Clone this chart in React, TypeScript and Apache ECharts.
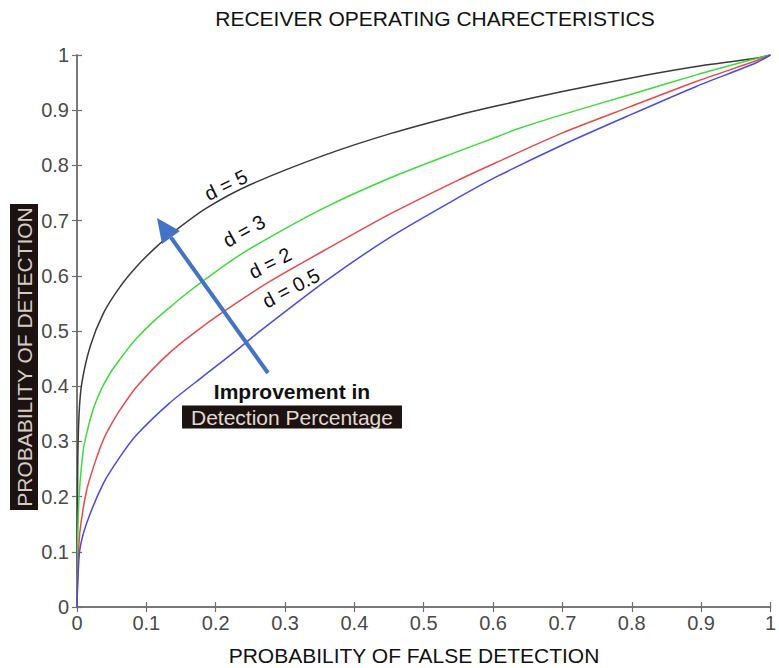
import React, { useEffect, useRef } from "react";
import * as echarts from "echarts";

const FONT = '"Liberation Sans", Arial, Helvetica, sans-serif';

const titleText = "RECEIVER OPERATING CHARECTERISTICS";
const xName = "PROBABILITY OF FALSE DETECTION";
const yName = "PROBABILITY OF DETECTION";

// [probability of false detection, probability of detection]
const curveD5 = [
  [0, 0], [0.001, 0.25], [0.003, 0.35], [0.007, 0.406], [0.019, 0.472], [0.038, 0.532],
  [0.062, 0.58], [0.086, 0.617], [0.114, 0.652], [0.138, 0.678], [0.186, 0.722],
  [0.248, 0.764], [0.358, 0.819], [0.453, 0.858], [0.549, 0.891], [0.606, 0.908],
  [0.7, 0.934], [0.797, 0.958], [0.893, 0.979], [0.978, 0.994], [1, 1],
];
const curveD3 = [
  [0, 0], [0.001, 0.12], [0.003, 0.2], [0.009, 0.284], [0.015, 0.32], [0.023, 0.357],
  [0.03, 0.38], [0.038, 0.402], [0.05, 0.428], [0.062, 0.449], [0.074, 0.469],
  [0.086, 0.487], [0.11, 0.517], [0.133, 0.542], [0.157, 0.567], [0.181, 0.59],
  [0.229, 0.633], [0.281, 0.672], [0.358, 0.724], [0.453, 0.778], [0.549, 0.825],
  [0.606, 0.852], [0.635, 0.866], [0.7, 0.892], [0.797, 0.928], [0.893, 0.964],
  [0.978, 0.993], [1, 1],
];
const curveD2 = [
  [0, 0], [0.001, 0.06], [0.004, 0.134], [0.014, 0.212], [0.026, 0.262], [0.038, 0.303],
  [0.05, 0.332], [0.062, 0.357], [0.086, 0.399], [0.133, 0.46], [0.181, 0.508],
  [0.229, 0.55], [0.277, 0.589], [0.358, 0.647], [0.453, 0.713], [0.549, 0.773],
  [0.606, 0.806], [0.7, 0.859], [0.797, 0.906], [0.893, 0.952], [0.978, 0.989], [1, 1],
];
const curveD05 = [
  [0, 0], [0.001, 0.04], [0.004, 0.103], [0.014, 0.152], [0.038, 0.224], [0.062, 0.272],
  [0.086, 0.312], [0.133, 0.369], [0.181, 0.417], [0.229, 0.464], [0.262, 0.498],
  [0.358, 0.59], [0.453, 0.671], [0.549, 0.741], [0.606, 0.78], [0.7, 0.837],
  [0.797, 0.891], [0.893, 0.943], [0.978, 0.985], [1, 1],
];

const curveNames = ["d = 5", "d = 3", "d = 2", "d = 0.5"];
const curveColors = ["#3a3a3a", "#3cdc3c", "#e84a4a", "#4a4ae6"];
const curves = [curveD5, curveD3, curveD2, curveD05];

const fmt = (v: number) => (v === 0 || v === 1 ? String(v) : v.toFixed(1));

export default function App() {
  const ref = useRef<HTMLDivElement>(null);

  useEffect(() => {
    const chart = echarts.init(ref.current!, null, { renderer: "svg" });

    const axisLine = { show: true, lineStyle: { color: "#707070", width: 1.5 } };
    const axisTick = { show: true, inside: true, length: 5, lineStyle: { color: "#707070", width: 1.2 } };
    const axisLabel = { color: "#4a4a4a", fontSize: 20, fontFamily: FONT, formatter: fmt };

    // annotation geometry (pixels)
    const tip = [157, 218];
    const tail = [268, 373];
    const dx = tip[0] - tail[0];
    const dy = tip[1] - tail[1];
    const len = Math.sqrt(dx * dx + dy * dy);
    const ux = dx / len;
    const uy = dy / len;
    const headLen = 24;
    const headHalf = 11;
    const bx = tip[0] - ux * headLen;
    const by = tip[1] - uy * headLen;
    const px = -uy;
    const py = ux;

    const labelPos = [
      { x: 226, y: 185, r: 26 },
      { x: 244, y: 231, r: 29 },
      { x: 270, y: 263, r: 27 },
      { x: 291, y: 288, r: 28 },
    ];

    chart.setOption({
      animation: false,
      backgroundColor: "#ffffff",
      title: {
        text: titleText,
        left: 435,
        top: 8,
        padding: 0,
        textAlign: "center",
        textStyle: { fontSize: 21, fontWeight: "normal", color: "#111", fontFamily: FONT },
      },
      grid: { left: 77, right: 4, top: 55, bottom: 61, containLabel: false },
      xAxis: [
        {
          type: "value", min: 0, max: 1, interval: 0.1, position: "bottom",
          axisLine, axisTick, splitLine: { show: false },
          axisLabel: { ...axisLabel, margin: 6, showMinLabel: true, showMaxLabel: true },
        },
        {
          type: "value", min: 0, max: 1, interval: 0.1, position: "top",
          axisLine, axisTick, splitLine: { show: false }, axisLabel: { show: false },
        },
      ],
      yAxis: [
        {
          type: "value", min: 0, max: 1, interval: 0.1, position: "left",
          axisLine, axisTick, splitLine: { show: false },
          axisLabel: { ...axisLabel, margin: 8 },
        },
        {
          type: "value", min: 0, max: 1, interval: 0.1, position: "right",
          axisLine, axisTick, splitLine: { show: false }, axisLabel: { show: false },
        },
      ],
      series: curves.map((data, i) => ({
        name: curveNames[i],
        type: "line",
        xAxisIndex: 0,
        yAxisIndex: 0,
        data,
        showSymbol: false,
        smooth: 0.25,
        lineStyle: { color: curveColors[i], width: 1.5 },
        itemStyle: { color: curveColors[i] },
        z: 2,
      })),
      graphic: [
        ...curveNames.map((t, i) => ({
          type: "text",
          x: labelPos[i].x,
          y: labelPos[i].y,
          rotation: (labelPos[i].r * Math.PI) / 180,
          z: 10,
          style: {
            text: t, fill: "#111", font: `20px ${FONT}`,
            align: "center", verticalAlign: "middle",
          },
        })),
        {
          type: "line",
          z: 10,
          shape: { x1: tail[0], y1: tail[1], x2: bx, y2: by },
          style: { stroke: "#4472c4", lineWidth: 4 },
        },
        {
          type: "polygon",
          z: 10,
          shape: {
            points: [
              [tip[0], tip[1]],
              [bx + px * headHalf, by + py * headHalf],
              [bx - px * headHalf, by - py * headHalf],
            ],
          },
          style: { fill: "#4472c4" },
        },
        {
          type: "text",
          x: 292, y: 391, z: 10,
          style: {
            text: "Improvement in", fill: "#111", font: `bold 21px ${FONT}`,
            align: "center", verticalAlign: "middle",
          },
        },
        {
          type: "text",
          x: 292, y: 417, z: 10,
          style: {
            text: "Detection Percentage", fill: "#e2dad0", font: `21px ${FONT}`,
            align: "center", verticalAlign: "middle",
            backgroundColor: "#1c1212", padding: [1, 9, 1, 9], lineHeight: 21,
          },
        },
        {
          type: "text",
          x: 24, y: 357, z: 10,
          rotation: Math.PI / 2,
          style: {
            text: yName, fill: "#d6cdc2", font: `21px ${FONT}`,
            align: "center", verticalAlign: "middle",
            backgroundColor: "#1c1212", padding: [3, 3, 3, 3], lineHeight: 22,
          },
        },
        {
          type: "text",
          x: 414, y: 655, z: 10,
          style: {
            text: xName, fill: "#111", font: `21px ${FONT}`,
            align: "center", verticalAlign: "middle",
          },
        },
      ],
    });

    return () => chart.dispose();
  }, []);

  return (
    <div
      ref={ref}
      style={{ position: "fixed", left: 0, top: 0, width: 779, height: 668, background: "#fff" }}
    />
  );
}
